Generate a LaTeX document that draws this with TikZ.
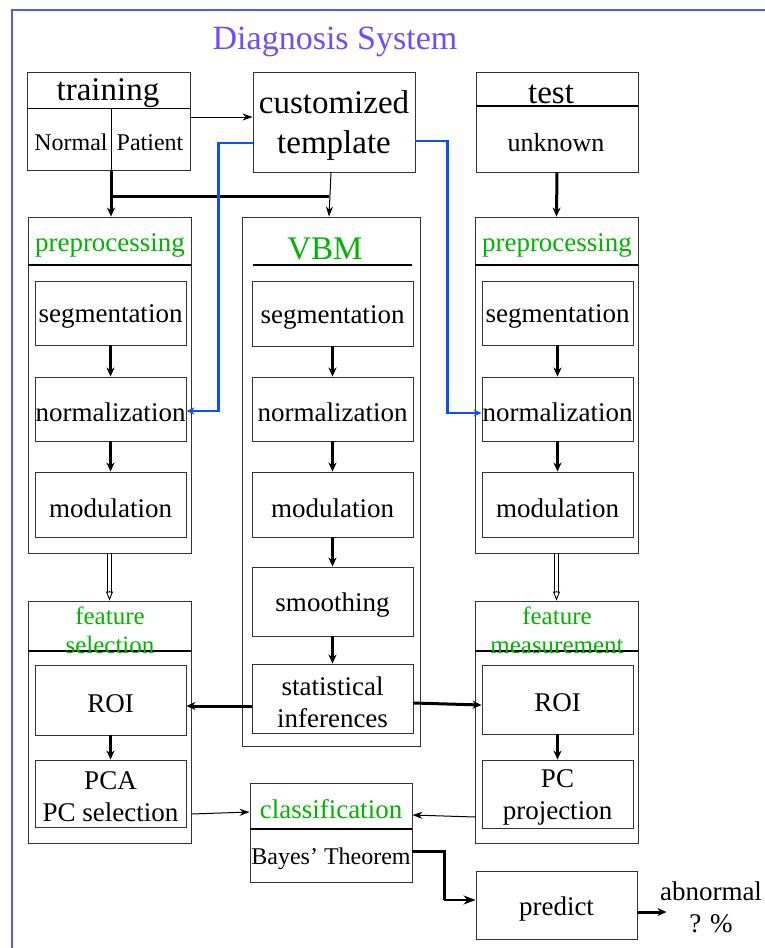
\documentclass[tikz,border=0pt]{standalone}
\usepackage{fontspec}
\setmainfont{Liberation Serif}
\usetikzlibrary{arrows.meta,calc}
\newcommand\myfs[2]{\fontsize{#1}{#2}\selectfont}
\definecolor{framec}{HTML}{5A55F5}
\definecolor{titlec}{HTML}{6E4CFF}
\definecolor{greenc}{HTML}{00B400}
\definecolor{bluec}{HTML}{0A50FF}
\definecolor{edgec}{HTML}{333333}
\begin{document}
\begin{tikzpicture}[x=1pt,y=-1pt,
 txt/.style={inner sep=0pt, align=center, font=\myfs{27}{32}, yshift=-3.5pt},
 box/.style={draw=edgec, line width=0.9pt, inner sep=0pt, label={[txt]center:#1}},
 box/.default={},
 lbl/.style={inner sep=0pt, align=center, yshift=-3.5pt},
 hdr/.style={inner sep=0pt, align=center, text=greenc, yshift=-3.5pt},
 thickarr/.style={line width=3pt, -{Stealth[length=9pt,width=8pt]}},
 thinarr/.style={line width=1pt, -{Stealth[length=10pt,width=7pt]}},
 bluearr/.style={draw=bluec, line width=2.2pt, -{Stealth[length=8pt,width=7pt]}},
 dblline/.style={line width=0.9pt},
 opentip/.style={line width=0.9pt, -{Triangle[open,length=9pt,width=7pt]}},
 hline/.style={line width=2.2pt}
]
\useasboundingbox (0,0) rectangle (764,948);
\draw[framec, line width=1.5pt] (12,10) rectangle (800,1000);
\node[lbl, text=titlec, font=\myfs{34}{40}] (title) at (335,38) {Diagnosis System};

% top row
\node[box, minimum width=163pt, minimum height=98pt] (train) at (108.5,121) {};
\draw[line width=1pt] (train.west |- 0,108) coordinate (th1) -- (train.east |- 0,108) coordinate (th2);
\draw[line width=1pt] (111,108) coordinate (td1) -- (td1 |- train.south);
\node[lbl, font=\myfs{33}{38}] (traint) at (108,90) {training};
\node[lbl, font=\myfs{24}{28}] (normal) at (71,139) {Normal};
\node[lbl, font=\myfs{24}{28}] (patient) at (150,139) {Patient};

\node[draw=edgec, line width=0.9pt, minimum width=162pt, minimum height=100pt] (tmpl) at (334,122) {};
\node[lbl, font=\myfs{33}{40}] (tmplt) at (334,122) {customized\\template};

\node[box, minimum width=162pt, minimum height=100pt] (test) at (557,122) {};
\draw[hline] (test.west |- 0,106) -- (test.east |- 0,106);
\node[lbl, font=\myfs{33}{38}] (testt) at (551,91) {test};
\node[lbl, font=\myfs{26}{30}] (unk) at (556,139) {unknown};

% left preprocessing
\node[box, minimum width=163pt, minimum height=336pt] (lpp) at (109.5,385) {};
\draw[hline] (lpp.west |- 0,265) -- (lpp.east |- 0,265);
\node[hdr, font=\myfs{27}{32}] (lpph) at (110,242) {preprocessing};
\node[box=segmentation, minimum width=151pt, minimum height=64pt] (lseg) at (110.5,313) {};
\node[box=normalization, minimum width=151pt, minimum height=64pt] (lnorm) at (110.5,409) {};
\node[box=modulation, minimum width=151pt, minimum height=65pt] (lmod) at (110.5,504.5) {};

% VBM
\node[box, minimum width=178pt, minimum height=529pt] (vbm) at (331,481.5) {};
\draw[hline] (253,265) coordinate (vh1) -- (412,265) coordinate (vh2);
\node[hdr, font=\myfs{33}{38}] (vbmh) at (325,245) {VBM};
\node[box=segmentation, minimum width=161pt, minimum height=65pt] (vseg) at (332.5,313.5) {};
\node[box=normalization, minimum width=161pt, minimum height=64pt] (vnorm) at (332.5,409) {};
\node[box=modulation, minimum width=161pt, minimum height=65pt] (vmod) at (332.5,504.5) {};
\node[box=smoothing, minimum width=161pt, minimum height=69pt] (vsmo) at (332.5,601.5) {};
\node[box={{statistical\\inferences}}, minimum width=161pt, minimum height=69pt] (vstat) at (332.5,698.5) {};

% right preprocessing
\node[box, minimum width=163pt, minimum height=336pt] (rpp) at (556.5,385) {};
\draw[hline] (rpp.west |- 0,265) -- (rpp.east |- 0,265);
\node[hdr, font=\myfs{27}{32}] (rpph) at (557,242) {preprocessing};
\node[box=segmentation, minimum width=151pt, minimum height=64pt] (rseg) at (557.5,313) {};
\node[box=normalization, minimum width=151pt, minimum height=64pt] (rnorm) at (557.5,409) {};
\node[box=modulation, minimum width=151pt, minimum height=65pt] (rmod) at (557.5,504.5) {};

% feature selection
\node[box, minimum width=163pt, minimum height=242pt] (fsel) at (109.5,722) {};
\draw[line width=1.2pt] (fsel.west |- 0,651) -- (fsel.east |- 0,651);
\node[hdr, font=\myfs{25}{29}] (fselh) at (110,627) {feature\\selection};
\node[box=ROI, minimum width=151pt, minimum height=70pt] (lroi) at (110.5,700) {};
\node[box={{PCA\\PC selection}}, minimum width=151pt, minimum height=67pt] (lpca) at (110.5,793.5) {};

% feature measurement
\node[box, minimum width=163pt, minimum height=242pt] (fmeas) at (556.5,722) {};
\draw[line width=1.2pt] (fmeas.west |- 0,651) -- (fmeas.east |- 0,651);
\node[hdr, font=\myfs{25}{29}] (fmeash) at (557,627) {feature\\measurement};
\node[box=ROI, minimum width=151pt, minimum height=69pt] (rroi) at (557.5,699.5) {};
\node[box={{PC\\projection}}, minimum width=151pt, minimum height=68pt] (rpc) at (557.5,794) {};

% classification
\node[box, minimum width=162pt, minimum height=99pt] (cls) at (331,832.5) {};
\draw[hline] (cls.west |- 0,829) -- (cls.east |- 0,829);
\node[hdr, font=\myfs{27}{32}] (clsh) at (331,806) {classification};
\node[lbl, font=\myfs{24}{28}] (bayes) at (331,855) {Bayes' Theorem};

% predict
\node[box=predict, minimum width=161pt, minimum height=68pt] (pred) at (556.5,905) {};
\node[lbl, font=\myfs{27}{32}] (abn) at (711,904) {abnormal\\? \%};

% connectors top
\draw[thinarr] ($(train.east)+(0,-4)$) -- ($(tmpl.west)+(0,-5)$);
\draw[thickarr] (td1 |- train.south) -- (td1 |- lpp.north);
\draw[line width=3pt] (td1 |- 0,196) -- (329,196) coordinate (tj);
\draw[thinarr] ($(tmpl.south)+(-3,0)$) -- ($(vbm.north)+(-2,0)$);
\draw[thickarr] (test.south) -- (rpp.north);
\draw[bluearr] ($(tmpl.west)+(0,21)$) -| ($(lnorm.east)+(32,2)$) -- ($(lnorm.east)+(0,2)$);
\draw[bluearr] ($(tmpl.east)+(0,19)$) -| ($(rnorm.west)+(-34,4)$) -- ($(rnorm.west)+(0,4)$);

% inner arrows
\foreach \a/\b in {lseg/lnorm, lnorm/lmod, vseg/vnorm, vnorm/vmod, vmod/vsmo, vsmo/vstat, rseg/rnorm, rnorm/rmod, lroi/lpca, rroi/rpc}
  \draw[thickarr] (\a.south) -- (\b.north);

% hollow double arrows
\foreach \a/\b in {lpp/fsel, rpp/fmeas} {
  \draw[dblline] ($(\a.south)+(-1.7,0)$) -- ($(\b.north)+(-1.7,-8)$);
  \draw[dblline] ($(\a.south)+(1.7,0)$) -- ($(\b.north)+(1.7,-8)$);
  \draw[opentip] ($(\b.north)+(0,-10)$) -- (\b.north);
}

\draw[thickarr] ($(vstat.west)+(0,7.5)$) -- ($(lroi.east)+(0,6)$);
\draw[thickarr] ($(vstat.east)+(0,4.5)$) -- ($(rroi.west)+(0,5.5)$);
\draw[thinarr] ($(fsel.east)+(0,92)$) -- ($(cls.west)+(0,-20.5)$);
\draw[thinarr] ($(fmeas.east)+(-163,95)$) -- ($(cls.east)+(0,-17.5)$);
\draw[line width=3pt] ($(cls.east)+(0,18.5)$) -| ($(pred.west)+(-31,-5)$);
\draw[line width=2pt, -{Stealth[length=12pt,width=9pt]}] ($(pred.west)+(-32,-5)$) -- ($(pred.west)+(0,-5)$);
\draw[thickarr] ($(pred.east)+(0,7)$) -- ($(pred.east)+(29,7)$);
\end{tikzpicture}
\end{document}
